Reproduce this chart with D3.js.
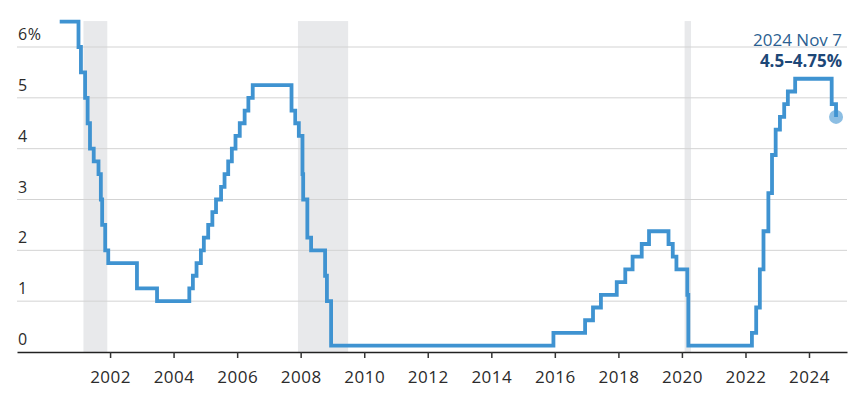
<!DOCTYPE html>
<html>
<head>
<meta charset="utf-8">
<script src="https://cdn.jsdelivr.net/npm/d3@7"></script>
<style>
  html, body { margin: 0; padding: 0; background: #fff; }
  svg { display: block; font-family: "Open Sans", "Lato", sans-serif; }
</style>
</head>
<body>
<svg id="chart" width="853" height="411"></svg>
<script>
// ---- Data: Fed funds target rate (midpoint of range), step changes ----
const rateDates = [
  "2000-06-01","2001-01-03","2001-01-31","2001-03-20","2001-04-18","2001-05-15","2001-06-27",
  "2001-08-21","2001-09-17","2001-10-02","2001-11-06","2001-12-11","2002-11-06","2003-06-25",
  "2004-06-30","2004-08-10","2004-09-21","2004-11-10","2004-12-14","2005-02-02","2005-03-22",
  "2005-05-03","2005-06-30","2005-08-09","2005-09-20","2005-11-01","2005-12-13","2006-01-31",
  "2006-03-28","2006-05-10","2006-06-29","2007-09-18","2007-10-31","2007-12-11","2008-01-22",
  "2008-01-30","2008-03-18","2008-04-30","2008-10-08","2008-10-29","2008-12-16","2015-12-16",
  "2016-12-14","2017-03-15","2017-06-14","2017-12-13","2018-03-21","2018-06-13","2018-09-26",
  "2018-12-19","2019-07-31","2019-09-18","2019-10-30","2020-03-03","2020-03-15","2022-03-16",
  "2022-05-04","2022-06-15","2022-07-27","2022-09-21","2022-11-02","2022-12-14","2023-02-01",
  "2023-03-22","2023-05-03","2023-07-26","2024-09-18","2024-11-07"
];
const rateValues = [
  6.5,6.0,5.5,5.0,4.5,4.0,3.75,
  3.5,3.0,2.5,2.0,1.75,1.25,1.0,
  1.25,1.5,1.75,2.0,2.25,2.5,2.75,
  3.0,3.25,3.5,3.75,4.0,4.25,4.5,
  4.75,5.0,5.25,4.75,4.5,4.25,3.5,
  3.0,2.25,2.0,1.5,1.0,0.125,0.375,
  0.625,0.875,1.125,1.375,1.625,1.875,2.125,
  2.375,2.125,1.875,1.625,1.125,0.125,0.375,
  0.875,1.625,2.375,3.125,3.875,4.375,4.625,
  4.875,5.125,5.375,4.875,4.625
];
const recessionStarts = ["2001-03-01","2007-12-01","2020-02-01"];
const recessionEnds   = ["2001-11-30","2009-06-30","2020-04-15"];
const yTicks = [0,1,2,3,4,5,6];
const yTickLabels = ["0","1","2","3","4","5","6%"];
const xTickYears = [2002,2004,2006,2008,2010,2012,2014,2016,2018,2020,2022,2024];
const annotationDate = "2024 Nov 7";
const annotationValue = "4.5\u20134.75%";

// ---- Layout ----
const parse = d3.timeParse("%Y-%m-%d");
const data = rateDates.map((d, i) => ({ date: parse(d), value: rateValues[i] }));

const mLeft = 17, mRight = 847, mTop = 47, mBottom = 352;
const x = d3.scaleTime()
  .domain([parse("1999-01-27"), parse("2025-03-13")])
  .range([mLeft, mRight]);
const y = d3.scaleLinear().domain([0, 6]).range([mBottom, mTop]);

const svg = d3.select("#chart");

// recession shading
svg.append("g").selectAll("rect")
  .data(recessionStarts.map((s, i) => [parse(s), parse(recessionEnds[i])]))
  .join("rect")
  .attr("x", d => x(d[0]))
  .attr("width", d => x(d[1]) - x(d[0]))
  .attr("y", y(6.5) - 0.5)
  .attr("height", d => mBottom - y(6.5) + 0.5)
  .attr("fill", "#e8e9eb");

// gridlines
svg.append("g").selectAll("line")
  .data(yTicks.filter(v => v > 0))
  .join("line")
  .attr("x1", mLeft).attr("x2", mRight)
  .attr("y1", d => y(d)).attr("y2", d => y(d))
  .attr("stroke", "#d3d3d3").attr("stroke-width", 1);

// y labels
svg.append("g").selectAll("text")
  .data(yTicks)
  .join("text")
  .attr("x", mLeft + 1)
  .attr("y", d => y(d) - 7)
  .attr("fill", "#2b2b2b")
  .attr("font-size", 16)
  .attr("letter-spacing", 0.5)
  .text((d, i) => yTickLabels[i]);

// x axis
const xAxis = d3.axisBottom(x)
  .tickValues(xTickYears.map(yr => new Date(yr, 0, 1)))
  .tickFormat(d3.timeFormat("%Y"))
  .tickSize(6)
  .tickSizeOuter(0);
const gx = svg.append("g").attr("transform", `translate(0,${mBottom})`).call(xAxis);
gx.select(".domain").attr("stroke", "#222").attr("stroke-width", 1.5);
gx.selectAll(".tick line").attr("stroke", "#333").attr("stroke-width", 1.5);
gx.selectAll(".tick text")
  .attr("font-family", "\"Open Sans\", sans-serif")
  .attr("font-size", 17)
  .attr("letter-spacing", 0.5)
  .attr("fill", "#2b2b2b")
  .attr("dy", null)
  .attr("y", 31);

// step line
const line = d3.line()
  .x(d => x(d.date))
  .y(d => y(d.value))
  .curve(d3.curveStepAfter);
svg.append("path")
  .datum(data)
  .attr("fill", "none")
  .attr("stroke", "#3f93d1")
  .attr("stroke-width", 3.8)
  .attr("stroke-linejoin", "miter")
  .attr("d", line);

// end dot
const last = data[data.length - 1];
svg.append("circle")
  .attr("cx", x(last.date))
  .attr("cy", y(last.value))
  .attr("r", 7)
  .attr("fill", "#3f93d1")
  .attr("fill-opacity", 0.6);

// annotation
svg.append("text")
  .attr("x", 842).attr("y", 46)
  .attr("text-anchor", "end")
  .attr("font-size", 17)
  .attr("fill", "#2b5f92")
  .text(annotationDate);
svg.append("text")
  .attr("x", 842).attr("y", 67)
  .attr("text-anchor", "end")
  .attr("font-size", 17)
  .attr("font-weight", "bold")
  .attr("fill", "#1d4777")
  .text(annotationValue);
</script>
</body>
</html>
